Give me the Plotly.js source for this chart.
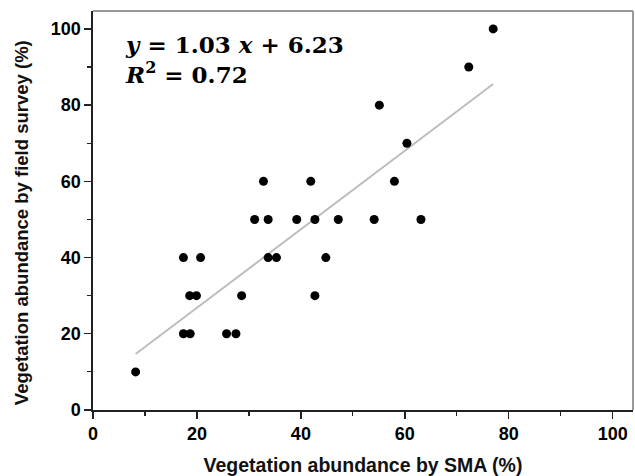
<!DOCTYPE html>
<html>
<head>
<meta charset="utf-8">
<script src="https://cdn.plot.ly/plotly-3.0.1.min.js"></script>
<style>html,body{margin:0;padding:0;background:#fff;}#chart{width:635px;height:476px;}</style>
</head>
<body>
<div id="chart"></div>
<script>
// Vegetation abundance by SMA (%)
const smaValues = [8.2, 17.4, 20.7, 18.6, 19.9, 28.6, 42.7, 17.4, 18.7, 25.7, 27.5,
  32.8, 41.9, 58.0, 31.1, 33.7, 39.2, 42.7, 47.2, 54.1, 63.1, 33.7, 35.3, 44.8,
  55.1, 60.4, 72.3, 77.0];
// Vegetation abundance by field survey (%)
const fieldValues = [10, 40, 40, 30, 30, 30, 30, 20, 20, 20, 20,
  60, 60, 60, 50, 50, 50, 50, 50, 50, 50, 40, 40, 40,
  80, 70, 90, 100];
const slope = 1.03;
const intercept = 6.23;
const rSquared = 0.72;
const tickValues = [0, 20, 40, 60, 80, 100];

const xMin = Math.min(...smaValues), xMax = Math.max(...smaValues);
const fitX = [xMin, xMax];
const fitY = fitX.map(v => slope * v + intercept);

const traces = [
  {x: fitX, y: fitY, mode: 'lines', type: 'scatter',
   line: {color: '#bdbdbd', width: 2}, hoverinfo: 'skip'},
  {x: smaValues, y: fieldValues, mode: 'markers', type: 'scatter',
   marker: {color: '#000', size: 9}}
];

const FONT = 'Liberation Sans, Arial, sans-serif';
function axisBase() {
  return {
    showgrid: false, zeroline: false, showline: true, linecolor: '#222', linewidth: 1.6,
    ticks: 'outside', ticklen: 7, tickwidth: 1.4, tickcolor: '#222',
    tickmode: 'array',
    tickvals: tickValues.slice(),
    ticktext: tickValues.map(v => '<b>' + v + '</b>'),
    tickfont: {family: FONT, size: 18, color: '#000', weight: 'bold'},
    minor: {dtick: 10, ticks: 'outside', ticklen: 4, tickwidth: 1.2, tickcolor: '#222'}
  };
}

const layout = {
  width: 635, height: 476,
  margin: {l: 93, r: 2, t: 11, b: 66},
  paper_bgcolor: '#fff', plot_bgcolor: '#fff',
  showlegend: false,
  font: {family: FONT},
  xaxis: Object.assign(axisBase(), {
    range: [0, 103.9],
    title: {text: '<b>Vegetation abundance by SMA (%)</b>', standoff: 17,
            font: {size: 19.5, color: '#111', family: FONT}}
  }),
  yaxis: Object.assign(axisBase(), {
    range: [0, 104.7]
  }),
  shapes: [
    {type: 'line', xref: 'paper', yref: 'paper', x0: 0, x1: 1, y0: 1, y1: 1,
     line: {color: '#999', width: 2}},
    {type: 'line', xref: 'paper', yref: 'paper', x0: 1, x1: 1, y0: 0, y1: 1,
     line: {color: '#999', width: 2}}
  ],
  annotations: [{
    xref: 'paper', yref: 'paper', x: 0.056, y: 0.955, xanchor: 'left', yanchor: 'top',
    align: 'left', showarrow: false,
    text: '<b><i>y</i> = ' + slope.toFixed(2) + ' <i>x</i> + ' + intercept.toFixed(2) +
          '</b><br><b><i>R</i><sup>2</sup> = ' + rSquared.toFixed(2) + '</b>',
    font: {family: 'DejaVu Serif, serif', size: 23, color: '#000'}
  }, {
    xref: 'paper', yref: 'paper', x: -0.132, y: 0.47, xanchor: 'center', yanchor: 'middle',
    textangle: -90, showarrow: false,
    text: '<b>Vegetation abundance by field survey (%)</b>',
    font: {size: 18.5, color: '#111', family: FONT}
  }]
};

Plotly.newPlot('chart', traces, layout, {displayModeBar: false, staticPlot: true});
</script>
</body>
</html>
